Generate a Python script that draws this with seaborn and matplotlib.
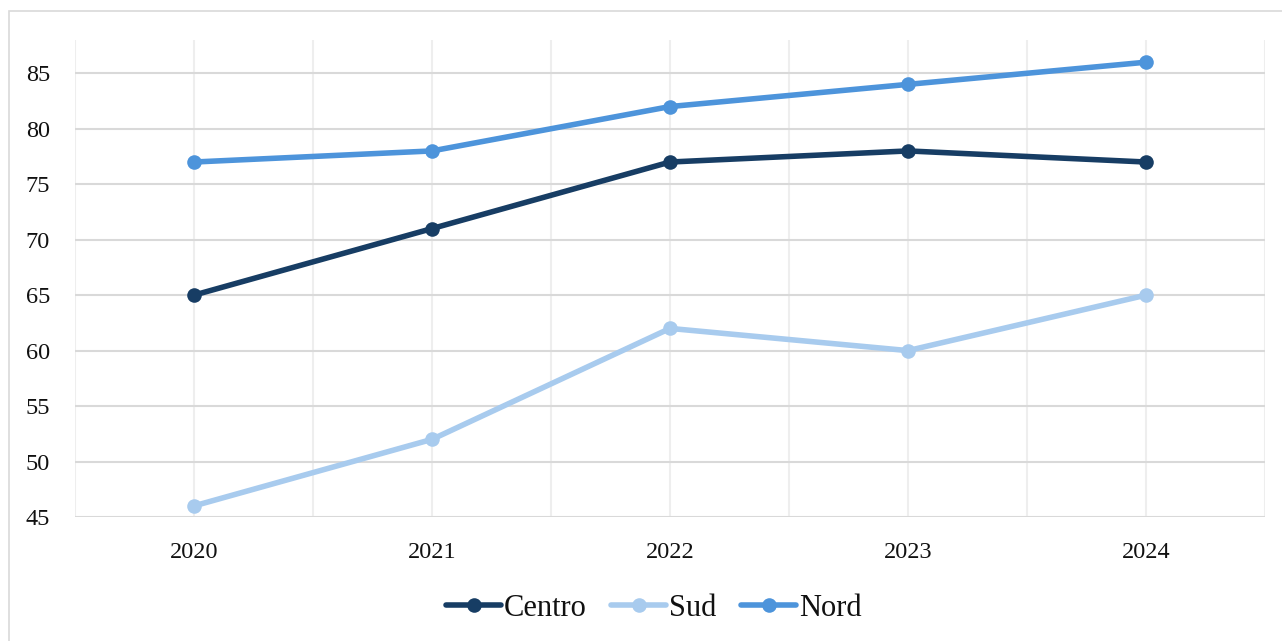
import numpy as np
import pandas as pd
import matplotlib
matplotlib.use("Agg")
import matplotlib.pyplot as plt
from matplotlib.patches import Rectangle
import seaborn as sns

years = [2020, 2021, 2022, 2023, 2024]
series_names = ["Centro", "Sud", "Nord"]
centro = [65, 71, 77, 78, 77]
sud = [46, 52, 62, 60, 65]
nord = [77, 78, 82, 84, 86]
colors = ["#173d64", "#a8cbee", "#4d94db"]
y_ticks = [45, 50, 55, 60, 65, 70, 75, 80, 85]

df = pd.DataFrame({
    "Anno": years * 3,
    "Valore": centro + sud + nord,
    "Serie": [s for s in series_names for _ in years],
})

sns.set_theme(style="white")
plt.rcParams["font.family"] = ["Liberation Serif", "DejaVu Serif"]

fig = plt.figure(figsize=(12.82, 6.41), dpi=100)
ax = fig.add_axes([75 / 1282, 1 - 517 / 641, 1190 / 1282, 477 / 641])

# figure border
fig.patches.append(Rectangle((9 / 1282, -0.1), 1.2, 1 - 11 / 641 + 0.1,
                             transform=fig.transFigure, fill=False,
                             edgecolor="#d9d9d9", linewidth=1.2, zorder=0))

sns.lineplot(data=df, x="Anno", y="Valore", hue="Serie", hue_order=series_names,
             palette=colors, marker="o", markersize=10.5, markeredgewidth=0,
             linewidth=4.0, ax=ax, legend=True)

ax.set_xlim(2019.5, 2024.5)
ax.set_ylim(45, 88)
ax.set_xticks(years)
ax.set_xticks(np.arange(2019.5, 2025, 1.0), minor=True)
ax.set_yticks(y_ticks)
ax.set_xticklabels([str(y) for y in years])
ax.set_xlabel("")
ax.set_ylabel("")

ax.grid(False)
ax.xaxis.grid(True, which="both", color="#eeeeee", linewidth=1.5, zorder=0)
ax.yaxis.grid(True, which="major", color="#d9d9d9", linewidth=1.5, zorder=0)
ax.set_axisbelow(True)
for s in ax.spines.values():
    s.set_visible(False)

ax.tick_params(axis="both", which="both", length=0, labelsize=17.5, colors="#111111")
ax.tick_params(axis="y", pad=18)
ax.tick_params(axis="x", pad=18)

handles, labels = ax.get_legend_handles_labels()
leg = ax.legend(handles, labels, loc="center", bbox_to_anchor=(654 / 1282, 1 - 608 / 641),
                bbox_transform=fig.transFigure, ncol=3, frameon=False, fontsize=22,
                handlelength=1.8, handletextpad=0.1, columnspacing=0.8)
for t in leg.get_texts():
    t.set_color("#111111")

fig.savefig("out.png", dpi=100)
